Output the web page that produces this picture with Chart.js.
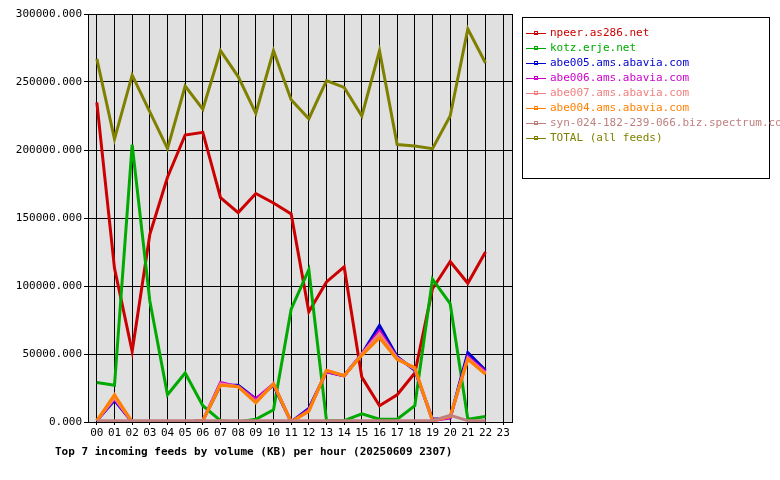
<!DOCTYPE html>
<html><head><meta charset="utf-8">
<script src="https://cdn.jsdelivr.net/npm/chart.js@4"></script>
<style>body{margin:0;background:#fff}#w{width:780px;height:480px}</style>
</head><body><div id="w"><canvas id="c"></canvas></div>
<script>
const hours = ["00","01","02","03","04","05","06","07","08","09","10","11","12","13","14","15","16","17","18","19","20","21","22","23"];
const yTicks = [0,50000,100000,150000,200000,250000,300000];
const seriesNames = ["npeer.as286.net","kotz.erje.net","abe005.ams.abavia.com","abe006.ams.abavia.com","abe007.ams.abavia.com","abe004.ams.abavia.com","syn-024-182-239-066.biz.spectrum.com","TOTAL (all feeds)"];
const colors = ["#cc0000","#00aa00","#0000cc","#cc00cc","#f08080","#ff8000","#c08080","#808000"];
const npeer = [235000,113000,52000,138000,180000,211000,213000,165000,154000,168000,161000,153000,81000,103000,114000,33000,12000,20000,36000,98000,118000,102000,125000];
const kotz = [29000,27000,204000,89000,20000,36000,12000,1000,0,2000,9000,83000,112000,1000,1000,6000,2000,2000,12000,105000,87000,2000,4000];
const abe005 = [1000,16000,0,0,0,0,1000,27000,27000,17000,27000,0,10000,37000,34000,50000,71000,48000,38000,2000,3000,51000,38000];
const abe006 = [1000,17000,0,0,0,0,1000,29000,26000,17000,28000,0,9000,37000,34000,50000,67000,47000,39000,1000,3000,48000,37000];
const abe007 = [1000,18000,0,0,0,0,1000,28000,26000,15000,28000,0,8000,38000,34000,50000,65000,47000,39000,1000,4000,47000,36000];
const abe004 = [1000,20000,0,0,0,0,1000,27000,26000,14000,28000,0,8000,38000,34000,49000,62000,46000,40000,1000,4000,46000,35000];
const syn = [1000,1000,1000,1000,1000,1000,1000,1000,1000,1000,1000,1000,1000,1000,1000,1000,1000,1000,1000,1000,5000,1000,1000];
const total = [267000,208000,255000,228000,201000,247000,230000,273000,254000,227000,273000,237000,223000,251000,246000,225000,273000,204000,203000,201000,225000,289000,264000];
const allData = [npeer,kotz,abe005,abe006,abe007,abe004,syn,total];
const titleText = "Top 7 incoming feeds by volume (KB) per hour (20250609 2307)";
const MONO = "'DejaVu Sans Mono', monospace";

const deco = {
  id:'deco',
  beforeDraw(ch){
    const a=ch.chartArea,c=ch.ctx;
    c.save();c.fillStyle='#e0e0e0';c.fillRect(a.left,a.top,a.right-a.left,a.bottom-a.top);c.restore();
  },
  afterDraw(ch){
    const a=ch.chartArea,c=ch.ctx;
    c.save();
    c.strokeStyle='#000';c.lineWidth=1;
    c.strokeRect(a.left+0.5,a.top+0.5,a.right-a.left,a.bottom-a.top);
    // legend
    c.strokeRect(522.5,17.5,247,161);
    c.font="11px "+MONO;c.textBaseline='middle';
    seriesNames.forEach((n,i)=>{
      const y=33+i*15;
      c.strokeStyle=colors[i];c.lineWidth=1;
      c.beginPath();c.moveTo(526,y+0.5);c.lineTo(546,y+0.5);c.stroke();
      c.strokeRect(534.5,y-1.5,3,3);
      c.fillStyle=colors[i];c.fillText(n,550,y);
    });
    c.fillStyle='#000';c.font="bold 11px "+MONO;c.textBaseline='middle';
    c.fillText(titleText,55,452);
    c.restore();
  }
};

new Chart(document.getElementById('c'),{
  type:'line',
  data:{labels:hours,datasets:allData.map((d,i)=>({label:seriesNames[i],data:d,borderColor:colors[i],backgroundColor:colors[i],borderWidth:3,pointRadius:0,tension:0,order:10-i}))},
  options:{
    responsive:true,maintainAspectRatio:false,animation:false,
    layout:{padding:{left:0,top:14,right:268,bottom:38}},
    plugins:{legend:{display:false},tooltip:{enabled:false}},
    scales:{
      x:{offset:true,grid:{color:'#000',offset:false,drawTicks:true,tickLength:3},border:{display:false},
         ticks:{color:'#000',font:{family:MONO,size:11},maxRotation:0,autoSkip:false,padding:2},
         afterFit(s){s.height=20;}},
      y:{min:0,max:300000,afterBuildTicks(s){s.ticks=yTicks.map(v=>({value:v}));},
         grid:{color:'#000',tickLength:4},border:{display:false},
         ticks:{color:'#000',font:{family:MONO,size:11},callback:v=>v.toFixed(3),padding:2},
         afterFit(s){s.width=88;}}
    }
  },
  plugins:[deco]
});
</script></body></html>
